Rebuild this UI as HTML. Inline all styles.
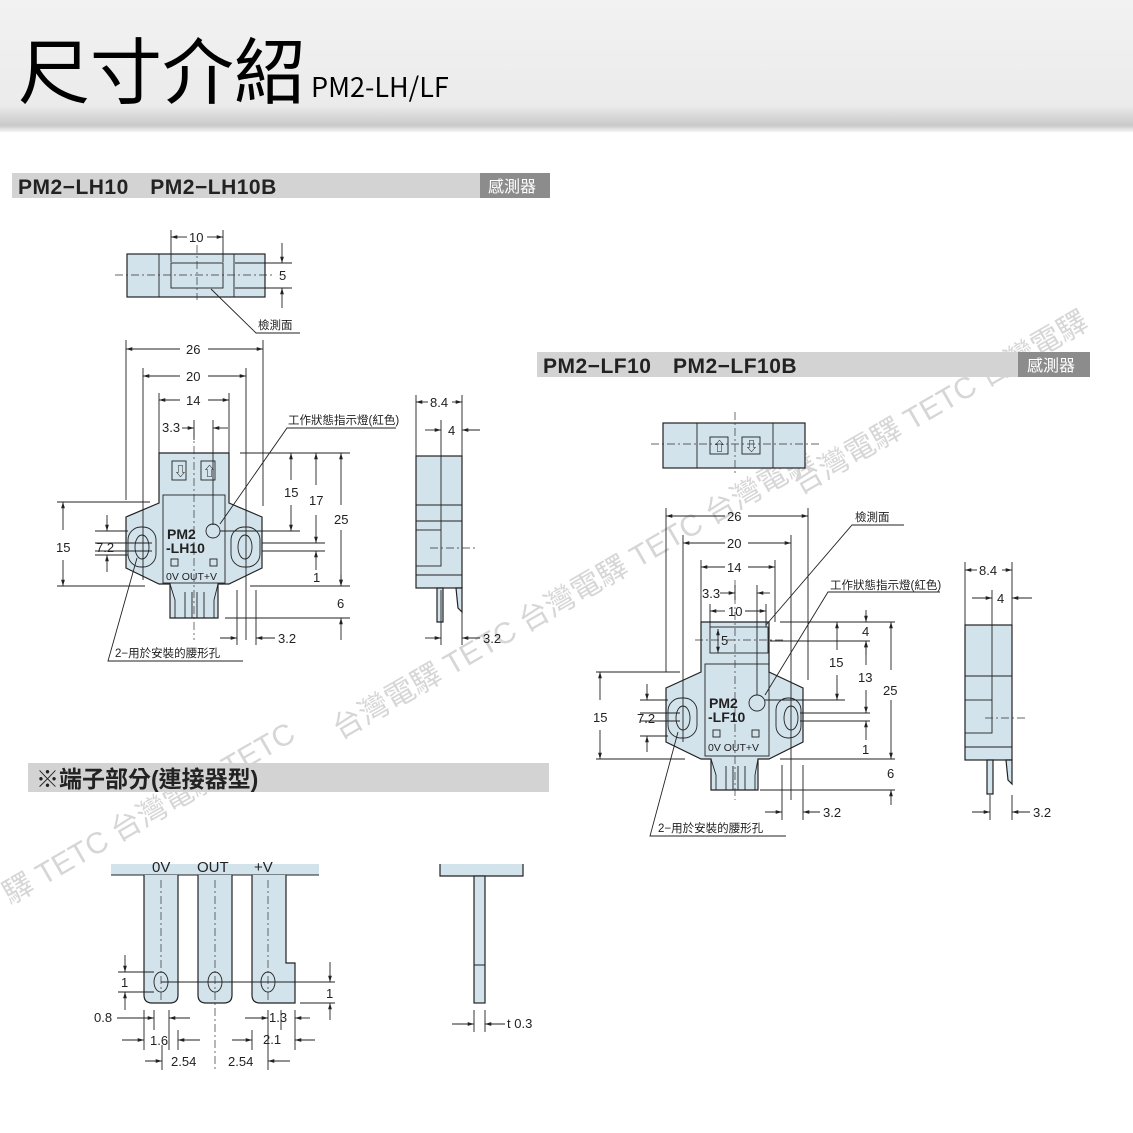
<!DOCTYPE html>
<html><head><meta charset="utf-8"><style>
html,body{margin:0;padding:0;background:#fff}
svg{display:block}
text{font-family:"Liberation Sans","Noto Sans CJK TC",sans-serif;fill:#222}
.d{stroke:#222;stroke-width:0.9;fill:none}
.b{stroke:#222;stroke-width:1.2;fill:#d3e3ec}
.c{stroke:#333;stroke-width:0.7;stroke-dasharray:8 3 2 3;fill:none}
.t{font-size:13px}
.s{font-size:11.5px}
</style></head><body>
<svg width="1133" height="1133" viewBox="0 0 1133 1133" xmlns="http://www.w3.org/2000/svg">
<defs>
<linearGradient id="hg" x1="0" y1="0" x2="0" y2="1">
<stop offset="0" stop-color="#f2f2f2"/><stop offset="0.8" stop-color="#ebebeb"/><stop offset="0.95" stop-color="#c9c9c9"/><stop offset="1" stop-color="#f5f5f5"/></linearGradient>
<marker id="a" viewBox="0 0 10 10" refX="10" refY="5" markerWidth="7" markerHeight="7" orient="auto-start-reverse"><path d="M0,2 L10,5 L0,8z" fill="#222"/></marker>
</defs>
<rect x="0" y="0" width="1133" height="132" fill="url(#hg)"/>
<text x="18" y="98" style="font-size:72px;font-family:'Noto Sans CJK TC',sans-serif;fill:#000">尺寸介紹</text>
<text x="311" y="97" style="font-size:27px;font-family:'Noto Sans CJK TC',sans-serif;fill:#000">PM2-LH/LF</text>

<!-- watermarks -->
<g style="font-size:30px">
<text x="340" y="740" transform="rotate(-30 340 740)" style="fill:#d6d6d6">台灣電驛 TETC 台灣電驛 TETC 台灣電驛</text>
<text x="10" y="905" transform="rotate(-30 10 905)" style="fill:#d6d6d6">驛 TETC 台灣電驛 TETC</text>
<text x="800" y="495" transform="rotate(-30 800 495)" style="fill:#d6d6d6">台灣電驛 TETC 台灣電驛</text>
</g>

<!-- section bars -->
<rect x="12" y="173" width="538" height="25" fill="#d3d3d3"/>
<rect x="480" y="173" width="70" height="25" fill="#8c8c8c"/>
<text x="18" y="194" style="font-size:21px;font-weight:bold;letter-spacing:0.5px">PM2−LH10　PM2−LH10B</text>
<text x="488" y="192" style="font-size:16px;fill:#fff">感測器</text>
<rect x="537" y="352" width="553" height="25" fill="#d3d3d3"/>
<rect x="1018" y="352" width="72" height="25" fill="#8c8c8c"/>
<text x="543" y="373" style="font-size:21px;font-weight:bold;letter-spacing:0.5px">PM2−LF10　PM2−LF10B</text>
<text x="1027" y="371" style="font-size:16px;fill:#fff">感測器</text>
<rect x="28" y="763" width="521" height="29" fill="#d3d3d3"/>
<text x="36" y="787" style="font-size:23px;font-weight:bold">※端子部分(連接器型)</text>

<!-- LH top view -->
<rect class="b" x="127" y="254" width="138" height="43"/>
<path class="d" d="M159 254V297M234 254V297"/>
<rect class="d" x="171" y="263" width="52" height="25"/>
<path class="c" d="M115 275H275M197 245V300"/>
<path class="d" d="M171 230V262M223 230V262"/>
<path class="d" d="M187 237H171" marker-end="url(#a)"/><path class="d" d="M207 237H223" marker-end="url(#a)"/>
<text class="t" x="189" y="242">10</text>
<path class="d" d="M235 263H292M235 288H292"/>
<path class="d" d="M282 243V263" marker-end="url(#a)"/><path class="d" d="M282 308V288" marker-end="url(#a)"/>
<text class="t" x="279" y="280">5</text>
<path class="d" d="M211 289L256 333H300"/>
<text class="s" x="258" y="329">檢測面</text>

<!-- LH front -->
<path class="b" d="M159 453H229V503L262 517V568L229 584H218V618H170V584H159L126 568V517L159 503Z"/>
<path class="d" d="M170 584L175 600V618H185V592M192 592V618M197 592V618M204 592V618H214V600L218 584"/>
<rect class="d" x="163" y="495" width="62" height="88"/>
<rect class="d" x="172" y="461" width="14" height="19"/><text x="174" y="476" style="font-size:13px">⇩</text>
<rect class="d" x="201" y="461" width="14" height="19"/><text x="203" y="476" style="font-size:13px">⇧</text>
<rect class="d" x="128" y="527" width="28" height="40" rx="13"/>
<ellipse class="d" cx="142" cy="547" rx="7" ry="12" fill="#fff"/>
<rect class="d" x="231" y="527" width="29" height="40" rx="13"/>
<ellipse class="d" cx="245" cy="547" rx="7" ry="12" fill="#fff"/>
<circle class="d" cx="213" cy="531" r="7"/>
<path class="c" d="M194 430V640"/>
<text x="167" y="539" style="font-size:14px;font-weight:bold">PM2</text>
<text x="166" y="553" style="font-size:14px;font-weight:bold">-LH10</text>
<rect class="d" x="171" y="559" width="7" height="7"/><rect class="d" x="210" y="559" width="7" height="7"/>
<text x="166" y="580" style="font-size:10.5px">0V OUT+V</text>
<path class="d" d="M126 340V500M263 340V506M143 368V580M246 368V640M159 393V453M229 393V453M194 420V440M213 420V525M256 590V645M237 590V645"/>
<path class="d" d="M180 349H126" marker-end="url(#a)"/><path class="d" d="M208 349H263" marker-end="url(#a)"/><text class="t" x="186" y="354">26</text>
<path class="d" d="M180 376H143" marker-end="url(#a)"/><path class="d" d="M208 376H246" marker-end="url(#a)"/><text class="t" x="186" y="381">20</text>
<path class="d" d="M180 400H159" marker-end="url(#a)"/><path class="d" d="M208 400H229" marker-end="url(#a)"/><text class="t" x="186" y="405">14</text>
<path class="d" d="M182 428H194" marker-end="url(#a)"/><path class="d" d="M228 428H213" marker-end="url(#a)"/><text class="t" x="162" y="432">3.3</text>
<path class="d" d="M220 524L287 428H396"/><text class="s" x="288" y="424">工作狀態指示燈(紅色)</text>
<path class="d" d="M240 453H350M220 531H300M262 543H325M262 551H325M250 586H350M225 618H350M57 502H150M57 586H145M95 531H128M95 555H128M95 543H152M95 551H152"/>
<path class="d" d="M291 480V453" marker-end="url(#a)"/><path class="d" d="M291 505V531" marker-end="url(#a)"/><text class="t" x="284" y="497">15</text>
<path class="d" d="M316 485V453" marker-end="url(#a)"/><path class="d" d="M316 515V543" marker-end="url(#a)"/><text class="t" x="309" y="505">17</text>
<path class="d" d="M341 505V453" marker-end="url(#a)"/><path class="d" d="M341 530V586" marker-end="url(#a)"/><text class="t" x="334" y="524">25</text>
<path class="d" d="M316 570V551" marker-end="url(#a)"/><text class="t" x="313" y="582">1</text>
<path class="d" d="M341 575V586" marker-end="url(#a)"/><path class="d" d="M341 640V618" marker-end="url(#a)"/><text class="t" x="337" y="608">6</text>
<path class="d" d="M220 638H237" marker-end="url(#a)"/><path class="d" d="M275 638H256" marker-end="url(#a)"/><text class="t" x="278" y="643">3.2</text>
<path class="d" d="M63 530V502" marker-end="url(#a)"/><path class="d" d="M63 560V586" marker-end="url(#a)"/><text class="t" x="56" y="552">15</text>
<path class="d" d="M107 515V531" marker-end="url(#a)"/><path class="d" d="M107 572V555" marker-end="url(#a)"/><text class="t" x="96" y="552">7.2</text>
<path class="d" d="M137 558L108 661H243"/><text class="s" x="115" y="657">2−用於安裝的腰形孔</text>

<!-- LH side -->
<rect class="b" x="416" y="456" width="46" height="132"/>
<path class="d" d="M416 505H462M416 521H462M416 575H462"/>
<rect class="d" x="416" y="530" width="25" height="36"/>
<path class="d" d="M441 420V530"/><path class="c" d="M430 548H475"/>
<path class="b" d="M437 588H443V622H437Z"/><path class="b" d="M456 588H462V612L458 608Z"/>
<path class="d" d="M416 395V456M462 395V456M441 590V645M462 590V645"/>
<path class="d" d="M428 402H416" marker-end="url(#a)"/><path class="d" d="M452 402H462" marker-end="url(#a)"/><text class="t" x="430" y="407">8.4</text>
<path class="d" d="M425 430H441" marker-end="url(#a)"/><path class="d" d="M480 430H462" marker-end="url(#a)"/><text class="t" x="448" y="435">4</text>
<path class="d" d="M425 638H441" marker-end="url(#a)"/><path class="d" d="M480 638H462" marker-end="url(#a)"/><text class="t" x="483" y="643">3.2</text>

<!-- LF top view -->
<rect class="b" x="663" y="423" width="142" height="45"/>
<path class="d" d="M697 423V468M773 423V468"/>
<rect class="d" x="710" y="437" width="18" height="17"/><text x="713" y="451" style="font-size:13px">⇧</text>
<rect class="d" x="742" y="437" width="18" height="17"/><text x="745" y="451" style="font-size:13px">⇩</text>
<path class="c" d="M651 444H820M735 412V476"/>

<!-- LF front -->
<path class="b" d="M701 622H769V672L803 688V742L769 759H758V790H711V759H701L666 742V688L701 672Z"/>
<path class="d" d="M711 759L716 775V790H726V766M733 766V790M738 766V790M745 766V790H755V775L758 759"/>
<rect class="d" x="710" y="627" width="58" height="26"/>
<rect class="d" x="705" y="664" width="64" height="92"/>
<rect class="d" x="668" y="698" width="29" height="40" rx="13"/>
<ellipse class="d" cx="683" cy="718" rx="7" ry="12" fill="#fff"/>
<rect class="d" x="776" y="698" width="25" height="40" rx="12"/>
<ellipse class="d" cx="791" cy="718" rx="7" ry="12" fill="#fff"/>
<circle class="d" cx="757" cy="703" r="8"/>
<path class="c" d="M735 580V800M695 640H785"/>
<text x="709" y="708" style="font-size:14px;font-weight:bold">PM2</text>
<text x="708" y="722" style="font-size:14px;font-weight:bold">-LF10</text>
<rect class="d" x="713" y="730" width="7" height="7"/><rect class="d" x="752" y="730" width="7" height="7"/>
<text x="708" y="751" style="font-size:10.5px">0V OUT+V</text>
<path class="d" d="M666 508V672M808 508V680M683 535V742M791 535V800M701 560V622M775 560V622M735 585V600M757 585V695M710 604V627M766 604V627M782 765V820M803 765V820"/>
<path class="d" d="M725 516H666" marker-end="url(#a)"/><path class="d" d="M748 516H808" marker-end="url(#a)"/><text class="t" x="727" y="521">26</text>
<path class="d" d="M725 543H683" marker-end="url(#a)"/><path class="d" d="M748 543H791" marker-end="url(#a)"/><text class="t" x="727" y="548">20</text>
<path class="d" d="M725 567H701" marker-end="url(#a)"/><path class="d" d="M748 567H775" marker-end="url(#a)"/><text class="t" x="727" y="572">14</text>
<path class="d" d="M720 593H735" marker-end="url(#a)"/><path class="d" d="M770 593H757" marker-end="url(#a)"/><text class="t" x="702" y="598">3.3</text>
<path class="d" d="M725 611H710" marker-end="url(#a)"/><path class="d" d="M745 611H766" marker-end="url(#a)"/><text class="t" x="728" y="616">10</text>
<path class="d" d="M718 643V629" marker-end="url(#a)"/><path class="d" d="M718 643V653" marker-end="url(#a)"/><text class="t" x="721" y="645">5</text>
<path class="d" d="M766 625L852 525H904"/><text class="s" x="855" y="521">檢測面</text>
<path class="d" d="M765 695L828 592H940"/><text class="s" x="830" y="589">工作狀態指示燈(紅色)</text>
<path class="d" d="M780 622H895M770 641H870M765 700H845M800 713H870M800 721H870M780 759H895M760 790H895M596 672H680M596 759H685M640 700H668M640 736H668M640 713H680M640 721H680"/>
<path class="d" d="M837 650V622" marker-end="url(#a)"/><path class="d" d="M837 675V700" marker-end="url(#a)"/><text class="t" x="829" y="667">15</text>
<path class="d" d="M866 610V622" marker-end="url(#a)"/><path class="d" d="M866 655V641" marker-end="url(#a)"/><text class="t" x="862" y="636">4</text>
<path class="d" d="M866 665V641" marker-end="url(#a)"/><path class="d" d="M866 690V713" marker-end="url(#a)"/><text class="t" x="858" y="682">13</text>
<path class="d" d="M891 670V622" marker-end="url(#a)"/><path class="d" d="M891 700V759" marker-end="url(#a)"/><text class="t" x="883" y="695">25</text>
<path class="d" d="M866 740V721" marker-end="url(#a)"/><text class="t" x="862" y="754">1</text>
<path class="d" d="M891 805V790" marker-end="url(#a)"/><text class="t" x="887" y="778">6</text>
<path class="d" d="M765 812H782" marker-end="url(#a)"/><path class="d" d="M820 812H803" marker-end="url(#a)"/><text class="t" x="823" y="817">3.2</text>
<path class="d" d="M600 700V672" marker-end="url(#a)"/><path class="d" d="M600 730V759" marker-end="url(#a)"/><text class="t" x="593" y="722">15</text>
<path class="d" d="M647 684V700" marker-end="url(#a)"/><path class="d" d="M647 752V736" marker-end="url(#a)"/><text class="t" x="637" y="723">7.2</text>
<path class="d" d="M678 732L650 836H786"/><text class="s" x="658" y="832">2−用於安裝的腰形孔</text>

<!-- LF side -->
<rect class="b" x="965" y="625" width="47" height="135"/>
<path class="d" d="M965 676H1012M965 747H1012"/>
<rect class="d" x="965" y="700" width="27" height="33"/>
<path class="d" d="M992 590V700"/><path class="c" d="M985 718H1028"/>
<path class="b" d="M987 760H993V794H987Z"/><path class="b" d="M1006 760H1012V784L1008 780Z"/>
<path class="d" d="M965 562V625M1012 562V625M990 795V820M1012 795V820"/>
<path class="d" d="M977 570H965" marker-end="url(#a)"/><path class="d" d="M1002 570H1012" marker-end="url(#a)"/><text class="t" x="979" y="575">8.4</text>
<path class="d" d="M972 598H992" marker-end="url(#a)"/><path class="d" d="M1032 598H1012" marker-end="url(#a)"/><text class="t" x="997" y="603">4</text>
<path class="d" d="M972 812H990" marker-end="url(#a)"/><path class="d" d="M1030 812H1012" marker-end="url(#a)"/><text class="t" x="1033" y="817">3.2</text>

<!-- terminals -->
<rect x="111" y="864" width="208" height="11" fill="#d3e3ec"/>
<path class="d" d="M111 875H319"/>
<path class="b" d="M144 875V995Q144 1003 152 1003H170Q178 1003 178 995V875"/>
<path class="b" d="M198 875V995Q198 1003 206 1003H224Q232 1003 232 995V875"/>
<path class="b" d="M252 875V995Q252 1003 260 1003H295V963H286V875"/>
<ellipse class="d" cx="161" cy="982" rx="7" ry="10" fill="#fff"/>
<ellipse class="d" cx="215" cy="982" rx="7" ry="10" fill="#fff"/>
<ellipse class="d" cx="268" cy="982" rx="7" ry="10" fill="#fff"/>
<path class="c" d="M161 880V1000M215 880V1070M268 880V1000"/>
<path class="d" d="M161 982H335M118 972H154M118 992H154M300 1003H335M154 1010V1030M169 1010V1050M178 1030V1050M144 1010V1050M162 1045V1070M268 1010V1070M281 1010V1030M252 1030V1050M295 1010V1050"/>
<text x="152" y="872" style="font-size:15px">0V</text><text x="197" y="872" style="font-size:15px">OUT</text><text x="254" y="872" style="font-size:15px">+V</text>
<path class="d" d="M125 955V972" marker-end="url(#a)"/><path class="d" d="M125 1010V992" marker-end="url(#a)"/><text class="t" x="121" y="987">1</text>
<path class="d" d="M330 962V982" marker-end="url(#a)"/><path class="d" d="M330 1020V1003" marker-end="url(#a)"/><text class="t" x="326" y="998">1</text>
<path class="d" d="M117 1018H154" marker-end="url(#a)"/><path class="d" d="M190 1018H169" marker-end="url(#a)"/><text class="t" x="94" y="1022">0.8</text>
<path class="d" d="M122 1040H144" marker-end="url(#a)"/><path class="d" d="M200 1040H178" marker-end="url(#a)"/><text class="t" x="150" y="1045">1.6</text>
<path class="d" d="M145 1061H162" marker-end="url(#a)"/><path class="d" d="M290 1061H268" marker-end="url(#a)"/><text class="t" x="171" y="1066">2.54</text><text class="t" x="228" y="1066">2.54</text>
<path class="d" d="M245 1018H268" marker-end="url(#a)"/><path class="d" d="M310 1018H295" marker-end="url(#a)"/><text class="t" x="269" y="1022">1.3</text>
<path class="d" d="M232 1040H252" marker-end="url(#a)"/><path class="d" d="M315 1040H295" marker-end="url(#a)"/><text class="t" x="263" y="1044">2.1</text>
<path class="b" d="M440 864V876H523V864"/>
<rect class="b" x="474" y="876" width="11" height="127"/>
<path class="d" d="M474 965H485M474 1010V1032M485 1010V1032"/>
<path class="d" d="M452 1024H474" marker-end="url(#a)"/><path class="d" d="M505 1024H485" marker-end="url(#a)"/><text class="t" x="507" y="1028">t 0.3</text>
</svg>
</body></html>
